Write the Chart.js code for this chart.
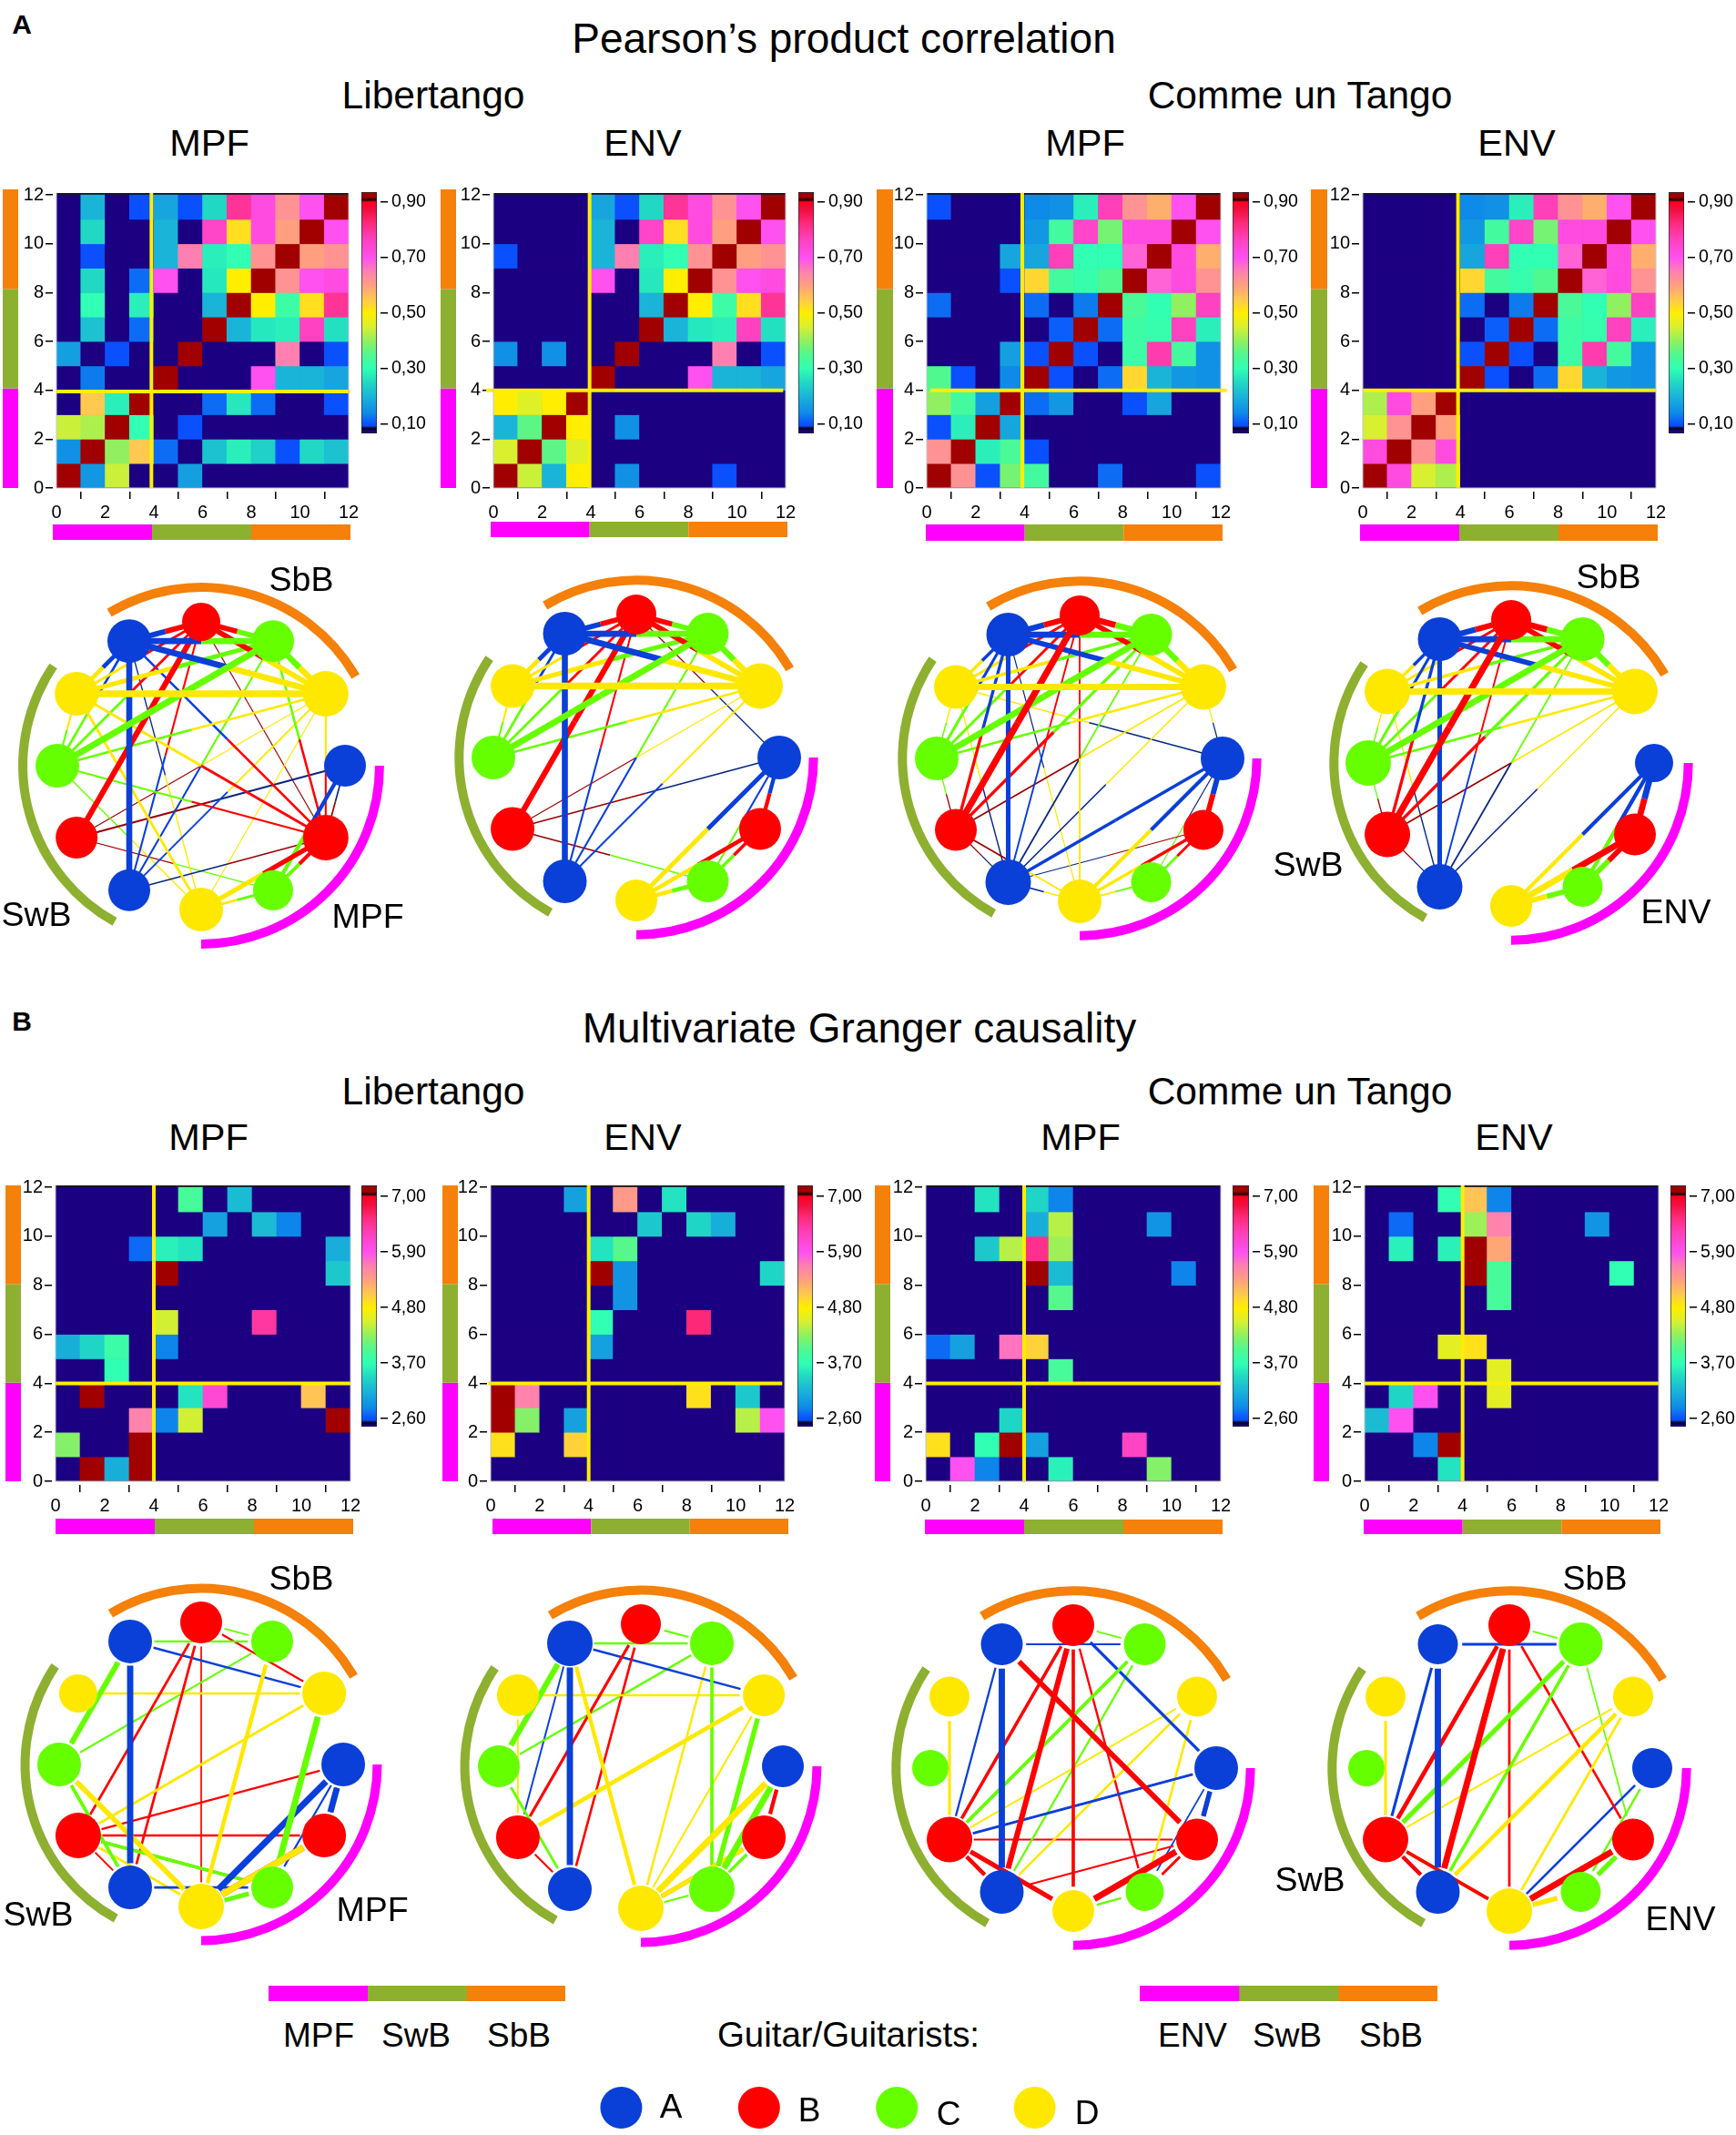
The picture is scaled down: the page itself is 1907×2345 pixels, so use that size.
<!DOCTYPE html>
<html>
<head>
<meta charset="utf-8">
<title>Pearson and Granger guitar networks</title>
<script src="https://cdn.jsdelivr.net/npm/chart.js@4/dist/chart.umd.js"></script>
<style>
  html, body { margin: 0; background: #fff; }
  #page { position: relative; width: 1907px; height: 2345px; overflow: hidden; font-family: "Liberation Sans", Arial, sans-serif; color: #000; }
  #page canvas { position: absolute; }
  .txt { position: absolute; white-space: nowrap; transform: translate(-50%, -50%); line-height: 1; z-index: 5; }
</style>
</head>
<body>
<div id="page"></div>
<script>
// tick labels
const axisTicks = [0, 2, 4, 6, 8, 10, 12];
const pearsonBarTicks = [0.1, 0.3, 0.5, 0.7, 0.9];
const grangerBarTicks = [2.6, 3.7, 4.8, 5.9, 7.0];
const groupSizes = [4, 4, 4];
const guitars = ['A', 'B', 'C', 'D'];

// 12 electrodes round the circle, clockwise from the right, MPF/ENV then SwB then SbB
const nodeAngles = [0, -30, -60, -90, -120, -150, 180, 150, 120, 90, 60, 30];

// rows run top to bottom (row 11 first), columns 0 to 11
const pearsonLibMpf = [
  [0, .2, 0, .1, .18, .1, .25, .8, .72, .62, .7, .95],
  [0, .25, 0, 0, .2, 0, .75, .52, .72, .6, .95, .7],
  [0, .1, 0, 0, .2, .65, .28, .3, .62, .95, .6, .62],
  [0, .25, 0, .12, .7, 0, .27, .5, .95, .62, .7, .72],
  [0, .3, 0, .28, 0, 0, .2, .95, .5, .32, .52, .8],
  [0, .22, 0, .12, 0, 0, .95, .2, .27, .28, .76, .26],
  [.17, 0, .1, 0, 0, .95, 0, 0, 0, .65, 0, .1],
  [0, .13, 0, 0, .95, 0, 0, 0, .7, .2, .2, .18],
  [0, .55, .28, .95, 0, 0, .12, .27, .12, 0, 0, .1],
  [.44, .42, .95, .3, 0, .1, 0, 0, 0, 0, 0, 0],
  [.15, .95, .4, .55, .12, 0, .22, .28, .24, .1, .25, .22],
  [.95, .16, .44, 0, 0, .17, 0, 0, 0, 0, 0, 0]
];
const pearsonLibEnv = [
  [0, 0, 0, 0, .18, .1, .25, .8, .72, .62, .7, .95],
  [0, 0, 0, 0, .2, 0, .75, .52, .72, .6, .95, .7],
  [.1, 0, 0, 0, .2, .65, .28, .3, .62, .95, .6, .62],
  [0, 0, 0, 0, .7, 0, .27, .5, .95, .62, .7, .72],
  [0, 0, 0, 0, 0, 0, .2, .95, .5, .32, .52, .8],
  [0, 0, 0, 0, 0, 0, .95, .2, .27, .28, .76, .26],
  [.15, 0, .15, 0, 0, .95, 0, 0, 0, .65, 0, .1],
  [0, 0, 0, 0, .95, 0, 0, 0, .7, .2, .2, .18],
  [.5, .46, .5, .95, 0, 0, 0, 0, 0, 0, 0, 0],
  [.2, .36, .95, .5, 0, .15, 0, 0, 0, 0, 0, 0],
  [.45, .95, .36, .46, 0, 0, 0, 0, 0, 0, 0, 0],
  [.95, .44, .2, .5, 0, .15, 0, 0, 0, .1, 0, 0]
];
const pearsonTanMpf = [
  [.1, 0, 0, 0, .14, .15, .28, .77, .62, .58, .7, .95],
  [0, 0, 0, 0, .16, .33, .75, .38, .72, .72, .95, .7],
  [0, 0, 0, .18, .18, .77, .3, .3, .68, .95, .72, .58],
  [0, 0, 0, .1, .53, .33, .31, .35, .95, .68, .72, .62],
  [.12, 0, 0, 0, .12, 0, .13, .95, .34, .3, .4, .76],
  [0, 0, 0, 0, 0, .11, .95, .12, .32, .31, .76, .28],
  [0, 0, 0, .17, .09, .95, .1, 0, .32, .78, .33, .15],
  [.35, .1, 0, .14, .95, .1, 0, .12, .53, .2, .16, .15],
  [.4, .33, .17, .95, .12, .16, 0, 0, .1, .18, 0, 0],
  [.1, .28, .95, .18, 0, 0, 0, 0, 0, 0, 0, 0],
  [.62, .95, .28, .34, .1, 0, 0, 0, 0, 0, 0, 0],
  [.95, .62, .1, .38, .33, 0, 0, .12, 0, 0, 0, .1]
];
const pearsonTanEnv = [
  [0, 0, 0, 0, .14, .15, .28, .77, .62, .58, .7, .95],
  [0, 0, 0, 0, .16, .33, .75, .38, .72, .72, .95, .7],
  [0, 0, 0, 0, .18, .77, .3, .3, .68, .95, .72, .58],
  [0, 0, 0, 0, .53, .33, .31, .35, .95, .68, .72, .62],
  [0, 0, 0, 0, .12, 0, .13, .95, .34, .3, .4, .76],
  [0, 0, 0, 0, 0, .11, .95, .12, .32, .31, .76, .28],
  [0, 0, 0, 0, .09, .95, .1, 0, .32, .78, .33, .15],
  [0, 0, 0, 0, .95, .1, 0, .12, .53, .2, .16, .15],
  [.42, .72, .6, .95, 0, 0, 0, 0, 0, 0, 0, 0],
  [.45, .62, .95, .6, 0, 0, 0, 0, 0, 0, 0, 0],
  [.72, .95, .62, .72, 0, 0, 0, 0, 0, 0, 0, 0],
  [.95, .72, .45, .42, 0, 0, 0, 0, 0, 0, 0, 0]
];
const grangerLibMpf = [
  [0, 0, 0, 0, 0, 3.9, 0, 3.2, 0, 0, 0, 0],
  [0, 0, 0, 0, 0, 0, 3.0, 0, 3.2, 2.8, 0, 0],
  [0, 0, 0, 2.7, 3.6, 3.5, 0, 0, 0, 0, 0, 3.1],
  [0, 0, 0, 0, 7.2, 0, 0, 0, 0, 0, 0, 3.3],
  [0, 0, 0, 0, 0, 0, 0, 0, 0, 0, 0, 0],
  [0, 0, 0, 0, 4.5, 0, 0, 0, 6.4, 0, 0, 0],
  [3.1, 3.4, 3.8, 0, 2.8, 0, 0, 0, 0, 0, 0, 0],
  [0, 0, 3.7, 0, 0, 0, 0, 0, 0, 0, 0, 0],
  [0, 7.2, 0, 0, 0, 3.5, 6.1, 0, 0, 0, 5.1, 0],
  [0, 0, 0, 5.6, 2.8, 4.5, 0, 0, 0, 0, 0, 7.2],
  [4.2, 0, 0, 7.2, 0, 0, 0, 0, 0, 0, 0, 0],
  [0, 7.2, 3.1, 7.2, 0, 0, 0, 0, 0, 0, 0, 0]
];
const grangerLibEnv = [
  [0, 0, 0, 3.0, 0, 5.4, 0, 3.5, 0, 0, 0, 0],
  [0, 0, 0, 0, 0, 0, 3.3, 0, 3.4, 3.1, 0, 0],
  [0, 0, 0, 0, 3.5, 4.0, 0, 0, 0, 0, 0, 0],
  [0, 0, 0, 0, 7.2, 2.9, 0, 0, 0, 0, 0, 3.4],
  [0, 0, 0, 0, 0, 2.9, 0, 0, 0, 0, 0, 0],
  [0, 0, 0, 0, 3.7, 0, 0, 0, 6.6, 0, 0, 0],
  [0, 0, 0, 0, 3.0, 0, 0, 0, 0, 0, 0, 0],
  [0, 0, 0, 0, 0, 0, 0, 0, 0, 0, 0, 0],
  [7.2, 5.6, 0, 0, 0, 0, 0, 0, 4.9, 0, 3.3, 0],
  [7.2, 4.2, 0, 3.0, 0, 0, 0, 0, 0, 0, 4.4, 5.9],
  [4.9, 0, 0, 5.0, 0, 0, 0, 0, 0, 0, 0, 0],
  [0, 0, 0, 0, 0, 0, 0, 0, 0, 0, 0, 0]
];
const grangerTanMpf = [
  [0, 0, 3.5, 0, 3.4, 2.8, 0, 0, 0, 0, 0, 0],
  [0, 0, 0, 0, 3.1, 4.4, 0, 0, 0, 2.9, 0, 0],
  [0, 0, 3.3, 4.4, 6.5, 4.3, 0, 0, 0, 0, 0, 0],
  [0, 0, 0, 0, 7.2, 3.2, 0, 0, 0, 0, 2.8, 0],
  [0, 0, 0, 0, 0, 4.0, 0, 0, 0, 0, 0, 0],
  [0, 0, 0, 0, 0, 0, 0, 0, 0, 0, 0, 0],
  [2.7, 3.0, 0, 5.7, 5.0, 0, 0, 0, 0, 0, 0, 0],
  [0, 0, 0, 0, 0, 3.9, 0, 0, 0, 0, 0, 0],
  [0, 0, 0, 0, 0, 0, 0, 0, 0, 0, 0, 0],
  [0, 0, 0, 3.4, 0, 0, 0, 0, 0, 0, 0, 0],
  [4.9, 0, 3.7, 7.2, 3.0, 0, 0, 0, 6.2, 0, 0, 0],
  [0, 5.9, 2.8, 0, 0, 3.6, 0, 0, 0, 4.2, 0, 0]
];
const grangerTanEnv = [
  [0, 0, 0, 3.7, 5.1, 2.8, 0, 0, 0, 0, 0, 0],
  [0, 2.7, 0, 0, 4.3, 5.6, 0, 0, 0, 2.9, 0, 0],
  [0, 3.6, 0, 3.6, 7.2, 5.3, 0, 0, 0, 0, 0, 0],
  [0, 0, 0, 0, 7.2, 3.9, 0, 0, 0, 0, 3.7, 0],
  [0, 0, 0, 0, 0, 3.9, 0, 0, 0, 0, 0, 0],
  [0, 0, 0, 0, 0, 0, 0, 0, 0, 0, 0, 0],
  [0, 0, 0, 4.6, 4.9, 0, 0, 0, 0, 0, 0, 0],
  [0, 0, 0, 0, 0, 4.6, 0, 0, 0, 0, 0, 0],
  [0, 3.4, 5.9, 0, 0, 4.6, 0, 0, 0, 0, 0, 0],
  [3.2, 5.9, 0, 0, 0, 0, 0, 0, 0, 0, 0, 0],
  [0, 0, 2.8, 7.2, 0, 0, 0, 0, 0, 0, 0, 0],
  [0, 0, 0, 3.5, 0, 0, 0, 0, 0, 0, 0, 0]
];

// node sizes, they differ a little from one graph to the next
const radiiPearsonLibMpf = [23, 25, 22, 24, 23, 23, 24, 24, 24, 21, 23, 25];
const radiiPearsonLibEnv = [24, 23, 23, 23, 24, 24, 24, 24, 24, 22, 23, 25];
const radiiPearsonTanMpf = [24, 22, 22, 24, 25, 23, 24, 24, 24, 22, 23, 25];
const radiiPearsonTanEnv = [21, 23, 22, 23, 25, 25, 25, 25, 24, 22, 24, 25];
const radiiGrangerLibMpf = [24, 24, 23, 25, 24, 25, 24, 21, 24, 23, 23, 24];
const radiiGrangerLibEnv = [23, 24, 25, 25, 24, 24, 23, 23, 25, 22, 24, 23];
const radiiGrangerTanMpf = [24, 23, 21, 23, 24, 25, 20, 22, 23, 23, 23, 22];
const radiiGrangerTanEnv = [22, 23, 22, 25, 24, 25, 20, 22, 22, 23, 24, 22];

const NAVY = '#1c0082';
const NODE_COLORS = ['#0a3fd8', '#ff0000', '#66ff00', '#ffe800'];
const GROUP_COLORS = ['#ff00ff', '#8db030', '#f5800a'];
const COLOR_STOPS = [
  [.10, '#0a50ff'], [.14, '#0e8ae8'], [.20, '#1ab4d8'], [.25, '#20d8c4'], [.30, '#30ffb4'],
  [.35, '#50f890'], [.40, '#90f060'], [.45, '#d8f030'], [.50, '#ffee00'], [.55, '#ffc850'],
  [.60, '#ff9f80'], [.65, '#ff80b0'], [.70, '#ff50f0'], [.77, '#ff40b8'], [.82, '#ff2c80'],
  [.87, '#f01040'], [.90, '#ff0020']
];

function hexRgb(hex) {
  return [1, 3, 5].map(i => parseInt(hex.slice(i, i + 2), 16));
}

function colormap(t) {
  if (t <= 0) return NAVY;
  if (t >= .92) return '#a00000';
  if (t <= COLOR_STOPS[0][0]) return COLOR_STOPS[0][1];
  for (let i = 1; i < COLOR_STOPS.length; i++) {
    const [t1, c1] = COLOR_STOPS[i];
    if (t <= t1) {
      const [t0, c0] = COLOR_STOPS[i - 1];
      const a = hexRgb(c0), b = hexRgb(c1), f = (t - t0) / (t1 - t0);
      return `rgb(${a.map((v, k) => Math.round(v + (b[k] - v) * f)).join(',')})`;
    }
  }
  return COLOR_STOPS[COLOR_STOPS.length - 1][1];
}

const pearsonT = v => v;
const grangerT = v => (v <= 0 ? 0 : .1 + (v - 2.6) / 4.4 * .8);

const page = document.getElementById('page');

function addCanvas(left, top, width, height) {
  const c = document.createElement('canvas');
  c.width = width;
  c.height = height;
  c.style.left = left + 'px';
  c.style.top = top + 'px';
  c.style.width = width + 'px';
  c.style.height = height + 'px';
  page.appendChild(c);
  return c;
}

function addText(text, cx, cy, size, bold) {
  const d = document.createElement('div');
  d.className = 'txt';
  d.textContent = text;
  d.style.left = cx + 'px';
  d.style.top = cy + 'px';
  d.style.fontSize = size + 'px';
  if (bold) d.style.fontWeight = 'bold';
  page.appendChild(d);
}

const tickFont = { family: 'Liberation Sans', size: 20 };
const barFont = { family: 'Liberation Sans', size: 19.5 };
const MARGIN = 62;

// the layout would otherwise shrink the plot to make room for half a tick label
function noLabelPadding(s) {
  s.paddingTop = s.paddingBottom = s.paddingLeft = s.paddingRight = 0;
}

function heatChart(values, toT, lay, vLineX, hLineY, hFrom, hTo) {
  const [l, t, r, b] = lay.plot;
  const canvas = addCanvas(l - MARGIN, t - 12, r - l + MARGIN + 14, b - t + 12 + MARGIN);
  const yMax = 12.08;

  const rows = values.map((row, i) => ({
    data: row.map((v, c) => ({ x: c + .5, y: [11 - i, 12 - i] })),
    backgroundColor: row.map(v => colormap(toT(v))),
    borderWidth: 0,
    barPercentage: 1,
    categoryPercentage: 1,
    order: 2
  }));
  const lines = [
    { type: 'line', data: [{ x: vLineX, y: 0 }, { x: vLineX, y: yMax }], borderColor: '#ffee00', borderWidth: 4, pointRadius: 0, clip: false, order: 1 },
    { type: 'line', data: [{ x: hFrom, y: hLineY }, { x: hTo, y: hLineY }], borderColor: '#ffee00', borderWidth: 4, pointRadius: 0, clip: false, order: 1 }
  ];

  const strips = {
    id: 'strips',
    beforeDraw(chart) {
      const { ctx, chartArea: a } = chart;
      ctx.save();
      ctx.fillStyle = '#16161e';
      ctx.fillRect(a.left, a.top, a.width, a.height);
      const ox = l - MARGIN, oy = t - 12;
      const total = groupSizes.reduce((s, v) => s + v, 0);
      let pos = 0;
      groupSizes.forEach((size, i) => {
        const [x0, x1, y0, y1] = lay.bottom;
        ctx.fillStyle = GROUP_COLORS[i];
        ctx.fillRect(x0 - ox + (x1 - x0) * pos / total, y0 - oy, (x1 - x0) * size / total, y1 - y0);
        const [sx0, sx1, sy0, sy1] = lay.left;
        const h = sy1 - sy0;
        ctx.fillRect(sx0 - ox, sy1 - oy - h * (pos + size) / total, sx1 - sx0, h * size / total);
        pos += size;
      });
      ctx.restore();
    },
    // small white gap between the plot and its tick marks
    beforeDatasetsDraw(chart) {
      const { ctx, chartArea: a } = chart;
      ctx.save();
      ctx.fillStyle = '#fff';
      ctx.fillRect(a.left - 4, a.top - 2, 4, a.height + 8);
      ctx.fillRect(a.left - 4, a.bottom, a.width + 12, 4);
      ctx.restore();
    },
    afterDraw(chart) {
      const { ctx, chartArea: a } = chart;
      ctx.save();
      ctx.strokeStyle = '#c4c4cc';
      ctx.lineWidth = 1;
      ctx.beginPath();
      ctx.moveTo(a.left, a.top);
      ctx.lineTo(a.left, a.bottom);
      ctx.lineTo(a.right, a.bottom);
      ctx.lineTo(a.right, a.top);
      ctx.stroke();
      ctx.restore();
    }
  };

  const axisBase = {
    type: 'linear',
    min: 0,
    border: { display: false },
    grid: { drawOnChartArea: false, drawTicks: true, tickLength: 12, color: '#000', lineWidth: 1.5 },
    afterBuildTicks: s => { s.ticks = axisTicks.map(v => ({ value: v })); }
  };

  return new Chart(canvas, {
    type: 'bar',
    data: { datasets: [...rows, ...lines] },
    plugins: [strips],
    options: {
      responsive: false,
      animation: false,
      layout: { autoPadding: false, padding: { top: 12, right: 14, left: 0, bottom: 0 } },
      plugins: { legend: { display: false }, tooltip: { enabled: false } },
      scales: {
        x: {
          ...axisBase, max: 12, stacked: true, offset: false,
          ticks: { font: tickFont, color: '#000', padding: 3, maxRotation: 0, autoSkip: false },
          afterFit: s => { s.height = MARGIN; noLabelPadding(s); }
        },
        y: {
          ...axisBase, max: yMax,
          ticks: { font: tickFont, color: '#000', padding: 2, autoSkip: false },
          afterFit: s => { s.width = MARGIN; noLabelPadding(s); }
        }
      }
    }
  });
}

function colorbarChart(lay, ticks, lo, hi, toT) {
  const [x0, x1, y0, y1] = lay.cb;
  const canvas = addCanvas(x0, y0 - 4, x1 - x0 + 72, y1 - y0 + 8);
  const tLo = toT(lo), tHi = toT(hi);
  const fill = ctx => {
    const { chart } = ctx;
    const a = chart.chartArea;
    if (!a) return NAVY;
    const g = chart.ctx.createLinearGradient(0, a.bottom, 0, a.top);
    const at = v => Math.min(1, Math.max(0, (v - tLo) / (tHi - tLo)));
    g.addColorStop(0, NAVY);
    g.addColorStop(at(.075), NAVY);
    g.addColorStop(at(.085), '#05051a');
    g.addColorStop(at(.095), '#0a50ff');
    COLOR_STOPS.forEach(([t, c]) => g.addColorStop(at(t), c));
    g.addColorStop(at(.908), '#1a0000');
    g.addColorStop(at(.918), '#a00000');
    g.addColorStop(1, '#a00000');
    return g;
  };
  const tickGap = {
    id: 'tickGap',
    beforeDatasetsDraw(chart) {
      const { ctx, chartArea: a } = chart;
      ctx.save();
      ctx.fillStyle = '#fff';
      ctx.fillRect(a.right, a.top, 4, a.height);
      ctx.restore();
    }
  };
  return new Chart(canvas, {
    type: 'bar',
    data: {
      labels: [''],
      datasets: [{ data: [[lo, hi]], backgroundColor: fill, borderColor: '#223', borderWidth: 1, borderSkipped: false, barPercentage: 1, categoryPercentage: 1 }]
    },
    plugins: [tickGap],
    options: {
      responsive: false,
      animation: false,
      layout: { autoPadding: false, padding: { top: 4, bottom: 4, left: 0, right: 0 } },
      plugins: { legend: { display: false }, tooltip: { enabled: false } },
      scales: {
        x: { display: false },
        y: {
          position: 'right',
          min: lo,
          max: hi,
          border: { display: false },
          grid: { drawOnChartArea: false, drawTicks: true, tickLength: 12, color: '#000', lineWidth: 1.5 },
          ticks: { font: barFont, color: '#000', padding: 4, autoSkip: false, callback: v => v.toFixed(2).replace('.', ',') },
          afterBuildTicks: s => { s.ticks = ticks.map(v => ({ value: v })); },
          afterFit: s => { s.width = 72; noLabelPadding(s); }
        }
      }
    }
  });
}

const nodePos = i => {
  const a = nodeAngles[i] * Math.PI / 180;
  return { x: Math.cos(a), y: Math.sin(a) };
};
const nodeColor = i => NODE_COLORS[i % 4];

function darker(hex, f) {
  return `rgb(${hexRgb(hex).map(v => Math.round(v * f)).join(',')})`;
}

function edge(from, to, color, width) {
  return { data: [from, to], showLine: true, borderColor: color, borderWidth: width, pointRadius: 0, borderCapStyle: 'butt' };
}

// the weakest blue and red links come out dark in the picture, green and yellow just thin
function weakShade(i, v) {
  return v < .18 && i % 4 < 2 ? darker(nodeColor(i), .6) : nodeColor(i);
}

// undirected, one half in the colour of each end. Chart.js paints the first dataset last
function pearsonEdges(values) {
  const list = [];
  values.forEach((row, i) => row.forEach((v, c) => {
    const r = 11 - i;
    if (v > 0 && r > c) list.push({ v, r, c });
  }));
  list.sort((p, q) => q.v - p.v);
  const out = [];
  list.forEach(({ v, r, c }) => {
    const a = nodePos(c), b = nodePos(r);
    const mid = { x: (a.x + b.x) / 2, y: (a.y + b.y) / 2 };
    const w = .3 + v * 9;
    out.push(edge(a, mid, weakShade(c, v), w));
    out.push(edge(mid, b, weakShade(r, v), w));
  });
  return out;
}

// directed, column drives row, drawn in the colour of the row
function grangerEdges(values) {
  const list = [];
  values.forEach((row, i) => row.forEach((v, c) => {
    const r = 11 - i;
    if (v > 0 && r !== c) list.push({ v, r, c });
  }));
  list.sort((p, q) => q.v - p.v);
  return list.map(({ v, r, c }) => {
    const a = nodePos(c), b = nodePos(r);
    const d = Math.hypot(b.x - a.x, b.y - a.y);
    const k = .17 / d;
    const from = { x: a.x + (b.x - a.x) * k, y: a.y + (b.y - a.y) * k };
    const to = { x: b.x - (b.x - a.x) * k, y: b.y - (b.y - a.y) * k };
    return edge(from, to, nodeColor(r), 1.6 + (v - 2.6) * 1.15);
  });
}

const ARC_SPANS = [
  { group: 0, from: 0, to: 90 },      // lower right, canvas angles run clockwise
  { group: 1, from: 119, to: 214 },   // left
  { group: 2, from: 239, to: 330 }    // top
];

function networkChart(edges, radii, cx, cy, R) {
  const half = 218;
  const canvas = addCanvas(cx - half, cy - half, half * 2, half * 2);
  const span = half / R;
  const nodes = {
    data: nodeAngles.map((a, i) => nodePos(i)),
    pointRadius: radii,
    pointBackgroundColor: nodeAngles.map((a, i) => nodeColor(i)),
    pointBorderWidth: 0
  };
  const arcs = {
    id: 'arcs',
    beforeDatasetsDraw(chart) {
      const { ctx, scales } = chart;
      const ox = scales.x.getPixelForValue(0), oy = scales.y.getPixelForValue(0);
      const rad = Math.abs(scales.x.getPixelForValue(1.24) - ox);
      ctx.save();
      ctx.lineWidth = 10;
      ARC_SPANS.forEach(s => {
        ctx.strokeStyle = GROUP_COLORS[s.group];
        ctx.beginPath();
        ctx.arc(ox, oy, rad, s.from * Math.PI / 180, s.to * Math.PI / 180);
        ctx.stroke();
      });
      ctx.restore();
    }
  };
  return new Chart(canvas, {
    type: 'scatter',
    data: { datasets: [nodes, ...edges] },
    plugins: [arcs],
    options: {
      responsive: false,
      animation: false,
      layout: { autoPadding: false, padding: 0 },
      plugins: { legend: { display: false }, tooltip: { enabled: false } },
      scales: {
        x: { display: false, min: -span, max: span },
        y: { display: false, min: -span, max: span }
      }
    }
  });
}

function legendBar(x0, x1, y0, y1) {
  const canvas = addCanvas(x0, y0, x1 - x0, y1 - y0);
  return new Chart(canvas, {
    type: 'bar',
    data: {
      labels: [''],
      datasets: groupSizes.map((v, i) => ({ data: [v], backgroundColor: GROUP_COLORS[i], borderWidth: 0, barPercentage: 1, categoryPercentage: 1 }))
    },
    options: {
      indexAxis: 'y',
      responsive: false,
      animation: false,
      layout: { autoPadding: false, padding: 0 },
      plugins: { legend: { display: false }, tooltip: { enabled: false } },
      scales: {
        x: { display: false, stacked: true, min: 0, max: 12 },
        y: { display: false, stacked: true }
      }
    }
  });
}

function legendDots() {
  const step = 151.6;
  const canvas = addCanvas(682 - step * .3, 2285, step * 3.6, 60);
  return new Chart(canvas, {
    type: 'scatter',
    data: {
      datasets: [{
        data: guitars.map((g, i) => ({ x: i, y: 0 })),
        pointRadius: 23,
        pointBackgroundColor: NODE_COLORS,
        pointBorderWidth: 0,
        clip: false
      }]
    },
    options: {
      responsive: false,
      animation: false,
      layout: { autoPadding: false, padding: 0 },
      plugins: { legend: { display: false }, tooltip: { enabled: false } },
      scales: {
        x: { display: false, min: -.3, max: 3.3 },
        y: { display: false, min: -1, max: 1 }
      }
    }
  });
}

const panels = [
  { m: pearsonLibMpf, t: pearsonT, plot: [62, 212, 383, 536], left: [3, 20, 208, 536], bottom: [58, 385, 576, 593], cb: [397, 414, 211, 476], v: 3.9, h: 3.95, hf: 0, ht: 12.05 },
  { m: pearsonLibEnv, t: pearsonT, plot: [542, 212, 863, 536], left: [484, 501, 208, 536], bottom: [539, 865, 573, 590], cb: [877, 894, 211, 476], v: 3.95, h: 4, hf: -.3, ht: 11.9 },
  { m: pearsonTanMpf, t: pearsonT, plot: [1018, 212, 1341, 536], left: [963, 981, 208, 536], bottom: [1017, 1343, 576, 594], cb: [1354, 1372, 211, 476], v: 3.9, h: 4, hf: .15, ht: 12.25 },
  { m: pearsonTanEnv, t: pearsonT, plot: [1497, 212, 1819, 536], left: [1440, 1458, 208, 536], bottom: [1494, 1821, 576, 594], cb: [1833, 1850, 211, 476], v: 3.9, h: 4, hf: 0, ht: 12 },
  { m: grangerLibMpf, t: grangerT, plot: [61, 1302, 385, 1627], left: [6, 23, 1302, 1627], bottom: [61, 388, 1668, 1685], cb: [397, 414, 1302, 1567], v: 4, h: 4, hf: 0, ht: 12 },
  { m: grangerLibEnv, t: grangerT, plot: [539, 1302, 862, 1627], left: [486, 503, 1302, 1627], bottom: [541, 866, 1668, 1685], cb: [876, 893, 1302, 1567], v: 4, h: 4, hf: -.1, ht: 11.9 },
  { m: grangerTanMpf, t: grangerT, plot: [1017, 1302, 1341, 1627], left: [961, 978, 1302, 1627], bottom: [1016, 1343, 1669, 1685], cb: [1354, 1372, 1302, 1567], v: 4, h: 4, hf: 0, ht: 12 },
  { m: grangerTanEnv, t: grangerT, plot: [1499, 1302, 1822, 1627], left: [1443, 1460, 1302, 1627], bottom: [1498, 1824, 1669, 1685], cb: [1835, 1852, 1302, 1567], v: 4, h: 4, hf: 0, ht: 12 }
];

panels.forEach((p, i) => {
  heatChart(p.m, p.t, p, p.v, p.h, p.hf, p.ht);
  if (i < 4) colorbarChart(p, pearsonBarTicks, .067, .936, pearsonT);
  else colorbarChart(p, grangerBarTicks, 2.44, 7.22, grangerT);
});

networkChart(pearsonEdges(pearsonLibMpf), radiiPearsonLibMpf, 220.5, 841, 158);
networkChart(pearsonEdges(pearsonLibEnv), radiiPearsonLibEnv, 699, 832, 157);
networkChart(pearsonEdges(pearsonTanMpf), radiiPearsonTanMpf, 1186, 833, 157);
networkChart(pearsonEdges(pearsonTanEnv), radiiPearsonTanEnv, 1660, 838, 157);
networkChart(grangerEdges(grangerLibMpf), radiiGrangerLibMpf, 221, 1938, 156);
networkChart(grangerEdges(grangerLibEnv), radiiGrangerLibEnv, 704, 1940, 156);
networkChart(grangerEdges(grangerTanMpf), radiiGrangerTanMpf, 1179, 1942, 157);
networkChart(grangerEdges(grangerTanEnv), radiiGrangerTanEnv, 1658, 1942, 157);

legendBar(295, 621, 2181, 2198);
legendBar(1252, 1579, 2181, 2198);
legendDots();

addText('A', 24, 27, 30, true);
addText('B', 24, 1122, 30, true);
addText('Pearson’s product correlation', 927, 42, 46);
addText('Multivariate Granger causality', 944, 1129, 46);
[[476, 105], [1428, 105], [476, 1199], [1428, 1199]].forEach(([x, y], i) => addText(i % 2 ? 'Comme un Tango' : 'Libertango', x, y, 42.5));
[['MPF', 230, 157], ['ENV', 706, 157], ['MPF', 1192, 157], ['ENV', 1666, 157],
 ['MPF', 229, 1249], ['ENV', 706, 1249], ['MPF', 1187, 1249], ['ENV', 1663, 1249]].forEach(([s, x, y]) => addText(s, x, y, 41.5));
[['SbB', 331, 637], ['SwB', 40, 1005], ['MPF', 404, 1007],
 ['SbB', 1767, 634], ['SwB', 1437, 950], ['ENV', 1841, 1002],
 ['SbB', 331, 1734], ['SwB', 42, 2103], ['MPF', 409, 2098],
 ['SbB', 1752, 1734], ['SwB', 1439, 2065], ['ENV', 1846, 2108]].forEach(([s, x, y]) => addText(s, x, y, 37.5));
[['MPF', 350, 2235], ['SwB', 457, 2235], ['SbB', 570, 2235], ['ENV', 1310, 2235], ['SwB', 1414, 2235], ['SbB', 1528, 2235]].forEach(([s, x, y]) => addText(s, x, y, 37));
addText('Guitar/Guitarists:', 932, 2235, 38.4);
[[737, 2313], [889, 2317], [1042, 2321], [1194, 2320]].forEach(([x, y], i) => addText(guitars[i], x, y, 37));
</script>
</body>
</html>
